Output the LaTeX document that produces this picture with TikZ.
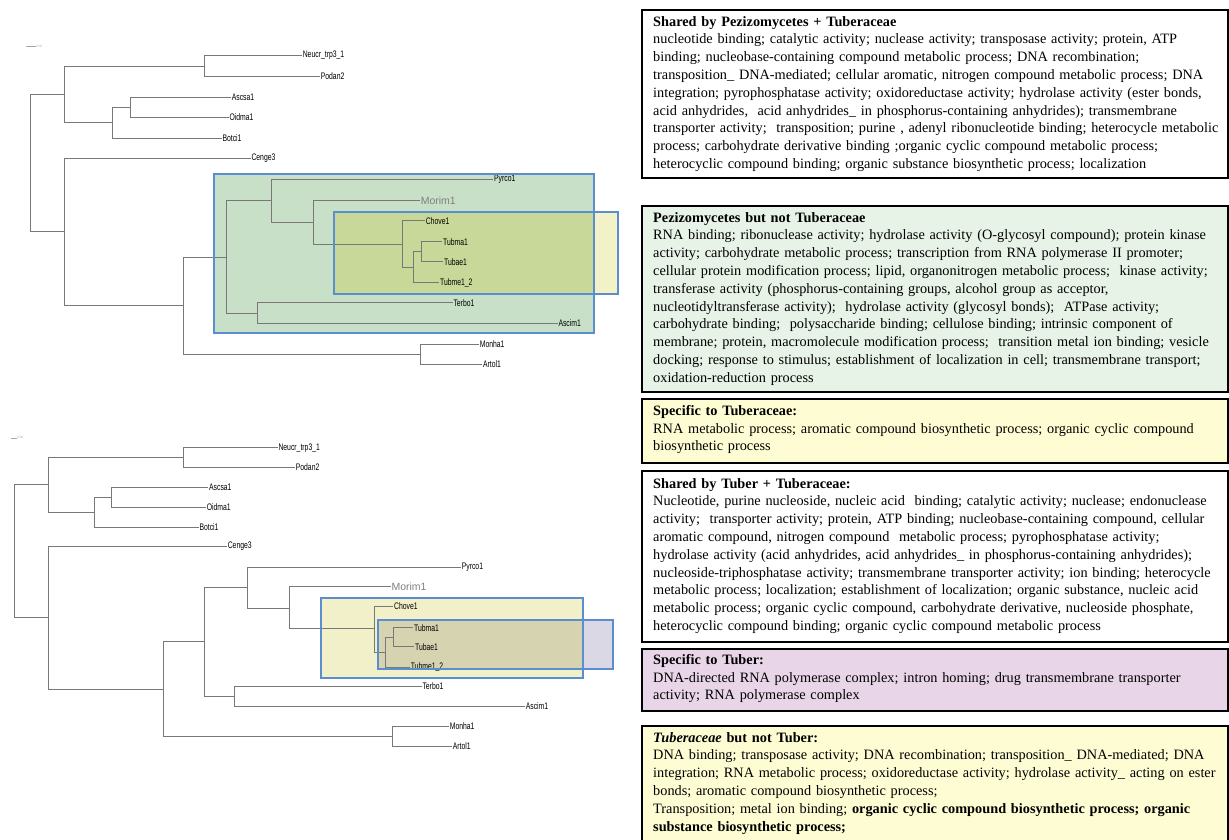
\documentclass[tikz,border=0pt]{standalone}
\usepackage{fontspec}
\setmainfont{Liberation Serif}
\newfontfamily\treefont[FakeStretch=0.72]{Liberation Sans}
\newfontfamily\morimfont{Liberation Sans}
\definecolor{treegray}{RGB}{120,120,120}
\definecolor{cgreen}{RGB}{200,223,200}
\definecolor{cyellow}{RGB}{243,241,200}
\definecolor{colive}{RGB}{200,216,152}
\definecolor{cyellowb}{RGB}{242,240,200}
\definecolor{cpurple}{RGB}{218,216,228}
\definecolor{ctan}{RGB}{214,211,177}
\definecolor{cladeblue}{RGB}{91,142,206}
\definecolor{bgreen}{RGB}{232,243,232}
\definecolor{byellow}{RGB}{254,252,210}
\definecolor{bpurple}{RGB}{232,214,232}
\begin{document}
\begin{tikzpicture}[x=1pt,y=-1pt,
  br/.style={draw=treegray, line width=0.8pt},
  leaf/.style={anchor=west, inner sep=0.6pt, font=\treefont\fontsize{9.5}{10}\selectfont, text=black},
  morim/.style={anchor=west, inner sep=0.6pt, font=\morimfont\fontsize{10.5}{11}\selectfont, text=black!50},
  clade/.style={draw=cladeblue, line width=2.8pt},
  gobox/.style={draw=black, line width=2.2pt, anchor=north west, minimum width=586pt, inner sep=0pt},
  gotext/.style={anchor=north west, inner sep=0pt, align=left, text width=600pt, font=\fontsize{14.3}{17.8}\selectfont},
  sbar/.style={draw=black!35, line width=0.4pt},
  sbtext/.style={anchor=west, inner sep=0.3pt, text=black!35, font=\fontsize{3.5}{4}\selectfont}]
\useasboundingbox (0,0) rectangle (1229,839);

% ---------------- clade highlight fills ----------------
\fill[cgreen] (214,174) rectangle (594,333);
\fill[cyellow] (334,212) rectangle (618,294);
\fill[colive] (334,212) rectangle (594,294);
\fill[cyellowb] (321,598) rectangle (583,678);
\fill[cpurple] (378,620) rectangle (613,669);
\fill[ctan] (378,620) rectangle (583,669);

% ---------------- top tree ----------------
\draw[sbar] (26,46) -- (36,46);
\node[sbtext] (tscale) at (36,46) {0.01};
\coordinate (tR) at (30,163);
\coordinate (tA1) at (64,94.5);
\coordinate (tA2) at (64,231.5);
\coordinate (tN1) at (204,66);
\coordinate (tN2) at (112.7,122.8);
\coordinate (tN3) at (130.3,107.5);
\coordinate (tB) at (183.3,305.5);
\coordinate (tC) at (226.7,257);
\coordinate (tM) at (420.7,354.3);
\coordinate (tP) at (271.7,200.5);
\coordinate (tT) at (257.7,313);
\coordinate (tQ) at (313.3,222);
\coordinate (tS) at (402.3,244);
\coordinate (tU) at (413.3,267);
\coordinate (tV) at (421,251.7);
\node[leaf] (tneucr) at (302,55.3) {Neucr\_trp3\_1};
\node[leaf] (tpodan) at (320,76.3) {Podan2};
\node[leaf] (tascsa) at (231,97.7) {Ascsa1};
\node[leaf] (toidma) at (228.7,117.3) {Oidma1};
\node[leaf] (tbotci) at (221.7,138.3) {Botci1};
\node[leaf] (tcenge) at (250.7,158) {Cenge3};
\node[leaf] (tpyrco) at (493.3,179.3) {Pyrco1};
\node[morim] (tmorim) at (420,200.3) {Morim1};
\node[leaf] (tchove) at (425,220.7) {Chove1};
\node[leaf] (ttubma) at (442.3,241.7) {Tubma1};
\node[leaf] (ttubae) at (443.3,261.7) {Tubae1};
\node[leaf] (ttubme) at (439.3,282.7) {Tubme1\_2};
\node[leaf] (tterbo) at (452.7,302.7) {Terbo1};
\node[leaf] (tascim) at (557.7,323.3) {Ascim1};
\node[leaf] (tmonha) at (479,344.3) {Monha1};
\node[leaf] (tartol) at (482.3,364.3) {Artol1};
\foreach \p/\c in {tR/tA1,tR/tA2,tA1/tN1,tA1/tN2,tN2/tN3,tA2/tB,tB/tC,tB/tM,tC/tP,tC/tT,tP/tQ,tQ/tS,tS/tU,tU/tV}
  \draw[br] (\p) |- (\c);
\foreach \p/\c in {tN1/tneucr,tN1/tpodan,tN2/tbotci,tN3/tascsa,tN3/toidma,tA2/tcenge,tM/tmonha,tM/tartol,tT/tterbo,tT/tascim,tP/tpyrco,tQ/tmorim,tS/tchove,tU/ttubme,tV/ttubma,tV/ttubae}
  \draw[br] (\p) |- (\c.west);

% ---------------- bottom tree ----------------
\draw[sbar] (11,437.7) -- (17,437.7);
\node[sbtext] (bscale) at (17,437.7) {0.01};
\coordinate (bR) at (14.7,551.3);
\coordinate (bA1) at (48.7,484.7);
\coordinate (bA2) at (48.7,617.7);
\coordinate (bN1) at (183.7,457.3);
\coordinate (bN2) at (94.7,512);
\coordinate (bN3) at (111.7,497.5);
\coordinate (bB) at (163.3,689);
\coordinate (bC) at (204.3,641.8);
\coordinate (bM) at (392.3,736.2);
\coordinate (bP) at (247.7,587.8);
\coordinate (bT) at (234.7,696.3);
\coordinate (bQ) at (289.3,608);
\coordinate (bS) at (374.7,628.5);
\coordinate (bU) at (385.7,652);
\coordinate (bV) at (393.3,637.2);
\node[leaf] (bneucr) at (277.7,447.7) {Neucr\_trp3\_1};
\node[leaf] (bpodan) at (295,467) {Podan2};
\node[leaf] (bascsa) at (208.3,487.7) {Ascsa1};
\node[leaf] (boidma) at (206,507.3) {Oidma1};
\node[leaf] (bbotci) at (198.7,527) {Botci1};
\node[leaf] (bcenge) at (227,546.3) {Cenge3};
\node[leaf] (bpyrco) at (461,567.3) {Pyrco1};
\node[morim] (bmorim) at (390.7,586.7) {Morim1};
\node[leaf] (bchove) at (393.3,606) {Chove1};
\node[leaf] (btubma) at (413.3,627.7) {Tubma1};
\node[leaf] (btubae) at (414.3,646.7) {Tubae1};
\node[leaf] (btubme) at (410,667.3) {Tubme1\_2};
\node[leaf] (bterbo) at (421.7,686.3) {Terbo1};
\node[leaf] (bascim) at (525,706.5) {Ascim1};
\node[leaf] (bmonha) at (449,726) {Monha1};
\node[leaf] (bartol) at (452,746.3) {Artol1};
\foreach \p/\c in {bR/bA1,bR/bA2,bA1/bN1,bA1/bN2,bN2/bN3,bA2/bB,bB/bC,bB/bM,bC/bP,bC/bT,bP/bQ,bQ/bS,bS/bU,bU/bV}
  \draw[br] (\p) |- (\c);
\foreach \p/\c in {bN1/bneucr,bN1/bpodan,bN2/bbotci,bN3/bascsa,bN3/boidma,bA2/bcenge,bM/bmonha,bM/bartol,bT/bterbo,bT/bascim,bP/bpyrco,bQ/bmorim,bS/bchove,bU/btubme,bV/btubma,bV/btubae}
  \draw[br] (\p) |- (\c.west);

% ---------------- clade borders ----------------
\draw[clade] (214,174) rectangle (594,333);
\draw[clade] (334,212) rectangle (618,294);
\draw[clade] (321,598) rectangle (583,678);
\draw[clade] (378,620) rectangle (613,669);

% ---------------- GO term boxes ----------------
\node[gobox, fill=white, minimum height=168pt] (box1) at (641,9) {};
\node[gotext] (txt1) at (653,16) {\textbf{Shared by Pezizomycetes + Tuberaceae}\\
nucleotide binding; catalytic activity; nuclease activity; transposase activity; protein, ATP\\
binding; nucleobase-containing compound metabolic process; DNA recombination;\\
transposition\_ DNA-mediated; cellular aromatic, nitrogen compound metabolic process; DNA\\
integration; pyrophosphatase activity; oxidoreductase activity; hydrolase activity (ester bonds,\\
acid anhydrides,\ \ acid anhydrides\_ in phosphorus-containing anhydrides); transmembrane\\
transporter activity;\ \ transposition; purine , adenyl ribonucleotide binding; heterocycle metabolic\\
process; carbohydrate derivative binding ;organic cyclic compound metabolic process;\\
heterocyclic compound binding; organic substance biosynthetic process; localization};

\node[gobox, fill=bgreen, minimum height=186pt] (box2) at (641,205) {};
\node[gotext] (txt2) at (653,212) {\textbf{Pezizomycetes but not Tuberaceae}\\
RNA binding; ribonuclease activity; hydrolase activity (O-glycosyl compound); protein kinase\\
activity; carbohydrate metabolic process; transcription from RNA polymerase II promoter;\\
cellular protein modification process; lipid, organonitrogen metabolic process;\ \ kinase activity;\\
transferase activity (phosphorus-containing groups, alcohol group as acceptor,\\
nucleotidyltransferase activity);\ \ hydrolase activity (glycosyl bonds);\ \ ATPase activity;\\
carbohydrate binding;\ \ polysaccharide binding; cellulose binding; intrinsic component of\\
membrane; protein, macromolecule modification process;\ \ transition metal ion binding; vesicle\\
docking; response to stimulus; establishment of localization in cell; transmembrane transport;\\
oxidation-reduction process};

\node[gobox, fill=byellow, minimum height=64pt] (box3) at (641,398) {};
\node[gotext] (txt3) at (653,405) {\textbf{Specific to Tuberaceae:}\\
RNA metabolic process; aromatic compound biosynthetic process; organic cyclic compound\\
biosynthetic process};

\node[gobox, fill=white, minimum height=171pt] (box4) at (641,470) {};
\node[gotext] (txt4) at (653,478) {\textbf{Shared by Tuber + Tuberaceae:}\\
Nucleotide, purine nucleoside, nucleic acid\ \ binding; catalytic activity; nuclease; endonuclease\\
activity;\ \ transporter activity; protein, ATP binding; nucleobase-containing compound, cellular\\
aromatic compound, nitrogen compound\ \ metabolic process; pyrophosphatase activity;\\
hydrolase activity (acid anhydrides, acid anhydrides\_ in phosphorus-containing anhydrides);\\
nucleoside-triphosphatase activity; transmembrane transporter activity; ion binding; heterocycle\\
metabolic process; localization; establishment of localization; organic substance, nucleic acid\\
metabolic process; organic cyclic compound, carbohydrate derivative, nucleoside phosphate,\\
heterocyclic compound binding; organic cyclic compound metabolic process};

\node[gobox, fill=bpurple, minimum height=62pt] (box5) at (641,648) {};
\node[gotext] (txt5) at (653,654) {\textbf{Specific to Tuber:}\\
DNA-directed RNA polymerase complex; intron homing; drug transmembrane transporter\\
activity; RNA polymerase complex};

\node[gobox, fill=byellow, minimum height=130pt] (box6) at (641,725) {};
\node[gotext] (txt6) at (653,732) {\textbf{\textit{Tuberaceae} but not Tuber:}\\
DNA binding; transposase activity; DNA recombination; transposition\_ DNA-mediated; DNA\\
integration; RNA metabolic process; oxidoreductase activity; hydrolase activity\_ acting on ester\\
bonds; aromatic compound biosynthetic process;\\
Transposition; metal ion binding; \textbf{organic cyclic compound biosynthetic process; organic}\\
\textbf{substance biosynthetic process;}};
\end{tikzpicture}
\end{document}
